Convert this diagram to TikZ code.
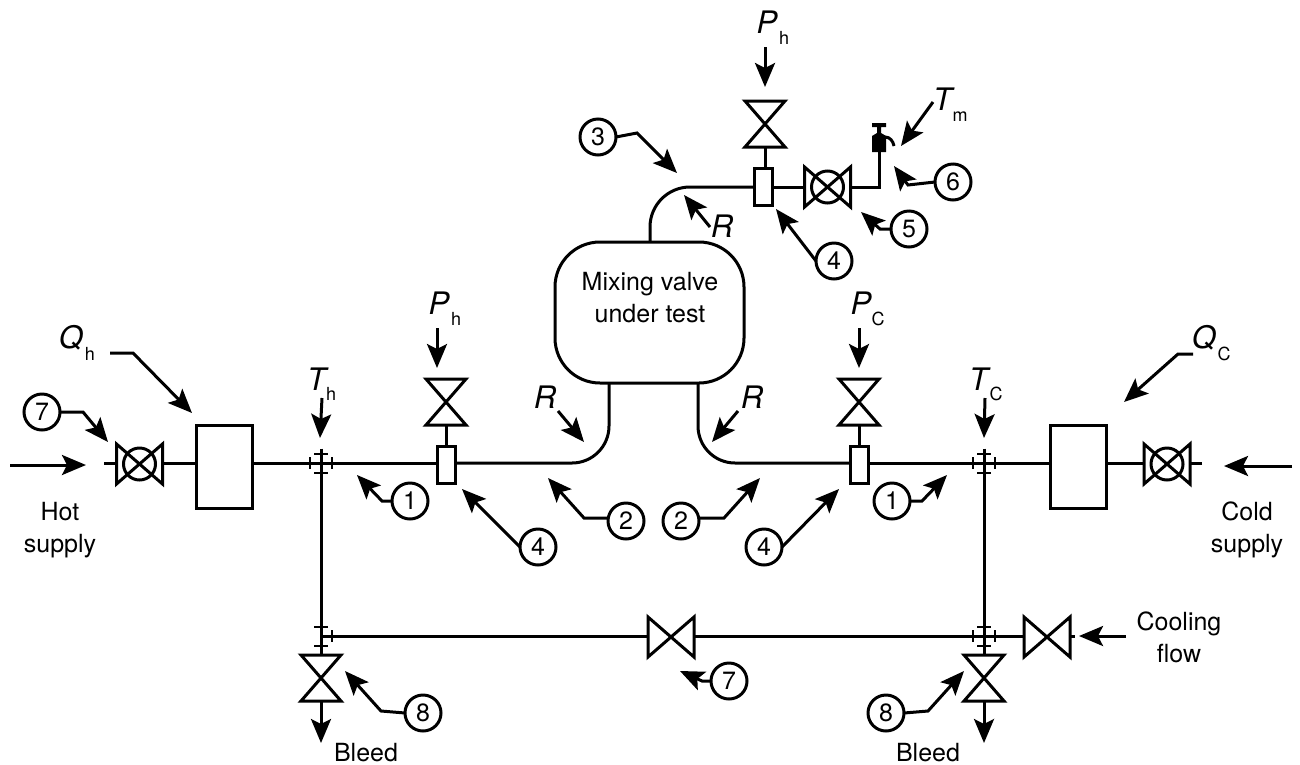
\documentclass[tikz,border=0pt]{standalone}
\usepackage{fontspec}
\setmainfont{TeX Gyre Heros}
\usetikzlibrary{arrows.meta}
\tikzset{
 pipe/.style={line width=3pt},
 pointer/.style={line width=3pt,-{Stealth[length=24pt,width=20pt,inset=5pt]}},
 hvalve/.style={rectangle,minimum width=46pt,minimum height=40pt,inner sep=0pt,outer sep=0pt},
 vvalve/.style={rectangle,minimum width=40pt,minimum height=46pt,inner sep=0pt,outer sep=0pt},
 joint/.style={rectangle,minimum width=22pt,minimum height=19pt,inner sep=0pt,outer sep=0pt},
 meter/.style={draw,pipe,rectangle,minimum width=56pt,minimum height=83pt,inner sep=0pt,outer sep=0pt},
 tapping/.style={draw,pipe,rectangle,minimum width=18pt,minimum height=37pt,inner sep=0pt,outer sep=0pt},
 num/.style={draw,pipe,circle,minimum size=36pt,inner sep=0pt,outer sep=0pt,font=\fontsize{25}{25}\selectfont},
 lab/.style={align=center,inner sep=0pt,font=\fontsize{25}{32}\selectfont},
 sym/.style={anchor=base,inner sep=0pt,font=\fontsize{31}{31}\selectfont\itshape},
 subs/.style={anchor=base,inner sep=0pt,font=\fontsize{18}{18}\selectfont},
}
\newcommand{\sidebow}[1]{\draw[pipe] (#1.north west)--(#1.south east)--(#1.north east)--(#1.south west)--cycle;}
\newcommand{\upbow}[1]{\draw[pipe] (#1.north west)--(#1.north east)--(#1.south west)--(#1.south east)--cycle;}
\newcommand{\vtick}[1]{\draw[line width=2pt] ([yshift=6pt]#1)--([yshift=-6pt]#1);}
\newcommand{\htick}[1]{\draw[line width=2pt] ([xshift=-7pt]#1)--([xshift=7pt]#1);}
\begin{document}
\begin{tikzpicture}[x=1pt,y=-1pt]
 \useasboundingbox (0,0) rectangle (1300,764);
 % valves and boxes
 \node[hvalve] (vhot) at (139.5,464) {};
 \node[hvalve] (vcold) at (1167,464) {};
 \node[hvalve] (vmix) at (827.5,187) {};
 \node[hvalve] (vbal) at (671,637) {};
 \node[hvalve] (vcool) at (1047,637) {};
 \node[vvalve] (vph) at (446,402) {};
 \node[vvalve] (vpc) at (859,402) {};
 \node[vvalve] (vpm) at (765,124) {};
 \node[vvalve] (vbh) at (321,678) {};
 \node[vvalve] (vbc) at (984,678) {};
 \node[meter] (qh) at (224,466.5) {};
 \node[meter] (qc) at (1078.5,466.5) {};
 \node[tapping] (tph) at (446,464.5) {};
 \node[tapping] (tpc) at (859,464.5) {};
 \node[tapping] (tpm) at (763,187) {};
 \node[joint] (jth) at (321,463) {};
 \node[joint] (jtc) at (984,463) {};
 \node[joint] (jbh) at (321,636) {};
 \node[joint] (jbc) at (984,636) {};
 \node[draw,pipe,rectangle,rounded corners=45pt,minimum width=189pt,minimum height=141pt,inner sep=0pt,outer sep=0pt] (mv) at (649.5,312.5) {};
 \node[lab] (mvtext) at (650,298) {Mixing valve\\under test};
 \sidebow{vhot} \sidebow{vcold} \sidebow{vmix} \sidebow{vbal} \sidebow{vcool}
 \upbow{vph} \upbow{vpc} \upbow{vpm} \upbow{vbh} \upbow{vbc}
 \draw[pipe] (vhot) circle (16pt);
 \draw[pipe] (vcold) circle (16pt);
 \draw[pipe] (vmix) circle (16pt);
 % pipework
 \coordinate (stubh) at (104,463);
 \coordinate (stubc) at (1202,463);
 \coordinate (stubw) at (1075,636);
 \draw[pipe] (stubh)--(vhot.west |- stubh);
 \draw[pipe] (vhot.east |- stubh)--(qh.west |- stubh);
 \draw[pipe] (qh.east |- stubh)--(tph.west |- stubh);
 \draw[pipe] (stubc)--(vcold.east |- stubc);
 \draw[pipe] (vcold.west |- stubc)--(qc.east |- stubc);
 \draw[pipe] (qc.west |- stubc)--(tpc.east |- stubc);
 \draw[pipe,rounded corners=37pt] (tph.east |- stubh)--(609,463)--(609,383);
 \draw[pipe,rounded corners=37pt] (tpc.west |- stubh)--(698,463)--(698,383);
 \draw[pipe,rounded corners=40pt] (tpm.west)--(650,187)--(650,242);
 \draw[pipe] (tpm.east)--(vmix.west);
 \draw[pipe] (vmix.east)--(879,187)--(879,150);
 \draw[pipe] (vph.south)--(tph.north);
 \draw[pipe] (vpc.south)--(tpc.north);
 \draw[pipe] (vpm.south)--(tpm.north -| vpm.south);
 \draw[pipe] ([yshift=5pt]jth.north)--(vbh.north);
 \draw[pipe] ([yshift=5pt]jtc.north)--(vbc.north);
 \draw[pipe] (jbh.center)--(vbal.west |- jbh.center);
 \draw[pipe] (vbal.east |- jbh.center)--(vcool.west |- jbh.center);
 \draw[pipe] (vcool.east |- jbh.center)--(stubw);
 \vtick{jth.west} \vtick{jth.east} \htick{jth.north} \htick{jth.south}
 \vtick{jtc.west} \vtick{jtc.east} \htick{jtc.north} \htick{jtc.south}
 \vtick{jbh.east} \htick{jbh.north} \htick{jbh.south}
 \vtick{jbc.west} \vtick{jbc.east} \htick{jbc.north} \htick{jbc.south}
 % sampling tap
 \fill (872,123)--(886,123)--(886,127)--(881,127)--(881,133)--(886,136)--(886,152)--(872,152)--(872,136)--(877,133)--(877,127)--(872,127)--cycle;
 \draw[pipe] (885,137) .. controls (890,137) and (893,141) .. (894,146);
 % numbered callouts
 \node[num] (n7h) at (42,412) {7};
 \node[num] (n1h) at (410,501) {1};
 \node[num] (n4h) at (538,547) {4};
 \node[num] (n2h) at (626,521) {2};
 \node[num] (n2c) at (681,521) {2};
 \node[num] (n4c) at (764,547) {4};
 \node[num] (n1c) at (892,501) {1};
 \node[num] (n3) at (598,137) {3};
 \node[num] (n4m) at (834,261) {4};
 \node[num] (n5) at (909,229) {5};
 \node[num] (n6) at (953,182) {6};
 \node[num] (n8h) at (423,713) {8};
 \node[num] (n8c) at (886,713) {8};
 \node[num] (n7b) at (729,681) {7};
 \coordinate (t7h) at (108,442);
 \coordinate (t1h) at (357,475);
 \coordinate (t4h) at (462,489);
 \coordinate (t2h) at (548,478);
 \coordinate (t2c) at (760,478);
 \coordinate (t4c) at (839,489);
 \coordinate (t1c) at (947,475);
 \coordinate (t3) at (677,173);
 \coordinate (t4m) at (776,209);
 \coordinate (t5) at (861,212);
 \coordinate (t6) at (894,166);
 \coordinate (t8h) at (345,671);
 \coordinate (t8c) at (964,671);
 \coordinate (t7b) at (680,671);
 \draw[pointer] (n7h.east)--(83,412)--(t7h);
 \draw[pointer] (n1h.west)--(382,501)--(t1h);
 \draw[pointer] (n4h.west)--(t4h);
 \draw[pointer] ([yshift=3pt]n2h.west)--(584,518)--(t2h);
 \draw[pointer] ([yshift=3pt]n2c.east)--(724,518)--(t2c);
 \draw[pointer] (n4c.east)--(t4c);
 \draw[pointer] (n1c.east)--(922,501)--(t1c);
 \draw[pointer] (n3.east)--(637,133)--(t3);
 \draw[pointer] (n4m.west)--(t4m);
 \draw[pointer] (n5.west)--(880,229)--(t5);
 \draw[pointer] (n6.west)--(908,185)--(t6);
 \draw[pointer] (n8h.west)--(381,711)--(t8h);
 \draw[pointer] (n8c.east)--(928,711)--(t8c);
 \draw[pointer] (n7b.west)--(702,681)--(t7b);
 % quantities
 \node[sym] (qhs) at (71,348) {Q};
 \node[subs] (qhi) at (90,360) {h};
 \node[sym] (qcs) at (1204,348) {Q};
 \node[subs] (qci) at (1224,360) {C};
 \node[sym] (ths) at (316.5,390) {T};
 \node[subs] (thi) at (331,400) {h};
 \node[sym] (tcs) at (978.5,390) {T};
 \node[subs] (tci) at (996,400) {C};
 \node[sym] (phs) at (439,314) {P};
 \node[subs] (phi) at (456,325) {h};
 \node[sym] (pcs) at (861,314) {P};
 \node[subs] (pci) at (878,325) {C};
 \node[sym] (pms) at (767,33) {P};
 \node[subs] (pmi) at (784,44) {h};
 \node[sym] (tms) at (942.5,110) {T};
 \node[subs] (tmi) at (960,121) {m};
 \node[sym] (rh) at (545,408) {R};
 \node[sym] (rc) at (752,408) {R};
 \node[sym] (rm) at (722,237) {R};
 \coordinate (tqh) at (192,413);
 \coordinate (tqc) at (1124,402);
 \coordinate (tth) at (320,438);
 \coordinate (ttc) at (984,438);
 \coordinate (tph1) at (437,368);
 \coordinate (tpc1) at (859,368);
 \coordinate (tpm1) at (765,87);
 \coordinate (ttm) at (901,146);
 \coordinate (trh) at (584,442);
 \coordinate (trc) at (712,442);
 \coordinate (trm) at (684,195);
 \draw[pointer] (110,353)--(133,353)--(tqh);
 \draw[pointer] (1193,354)--(1178,354)--(tqc);
 \draw[pointer] (322,398)--(tth);
 \draw[pointer] (985,398)--(ttc);
 \draw[pointer] (437,328)--(tph1);
 \draw[pointer] (859,328)--(tpc1);
 \draw[pointer] (765,47)--(tpm1);
 \draw[pointer] (933,102)--(ttm);
 \draw[pointer] (558,411)--(trh);
 \draw[pointer] (738,411)--(trc);
 \draw[pointer] (710,227)--(trm);
 % supplies and bleeds
 \node[lab] (hots) at (60,530) {Hot\\supply};
 \node[lab] (cold) at (1247,530) {Cold\\supply};
 \node[lab] (cool) at (1179,637) {Cooling\\flow};
 \node[lab,anchor=base] (blh) at (366,761) {Bleed};
 \node[lab,anchor=base] (blc) at (928,761) {Bleed};
 \coordinate (ahs) at (10,465);
 \coordinate (aht) at (86,465);
 \coordinate (acs) at (1292,466);
 \coordinate (act) at (1224,466);
 \coordinate (aws) at (1126,636);
 \coordinate (awt) at (1079,636);
 \coordinate (abh) at (321,743);
 \coordinate (abc) at (984,743);
 \draw[pointer] (ahs)--(aht);
 \draw[pointer] (acs)--(act);
 \draw[pointer] (aws)--(awt);
 \draw[pointer] (vbh.south)--(abh);
 \draw[pointer] (vbc.south)--(abc);
\end{tikzpicture}
\end{document}
